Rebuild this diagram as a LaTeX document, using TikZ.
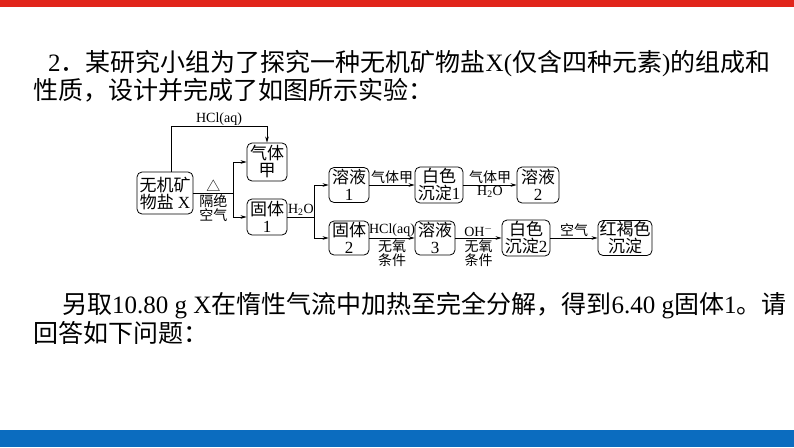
\documentclass[tikz,border=0pt]{standalone}
\usepackage{fontspec}
\setmainfont{Liberation Serif}
\newfontfamily\cjk{Noto Sans CJK SC}
\usetikzlibrary{calc,positioning,arrows.meta}
\definecolor{slidered}{HTML}{E1251B}
\definecolor{slideblue}{HTML}{0B6CBF}
\newcommand{\zh}[1]{{\cjk #1}}
\newcommand{\lt}[1]{{\rmfamily #1}}

\begin{document}
\begin{tikzpicture}[x=1pt,y=-1pt,
    box/.style={draw,rounded corners=5pt,line width=0.8pt,align=center,inner sep=1pt,font=\fontsize{17}{17}\selectfont\cjk},
    lbl/.style={font=\fontsize{14}{14.5}\selectfont,inner sep=1.2pt,align=center},
    zhlbl/.style={lbl,font=\fontsize{14}{14.5}\selectfont\cjk},
    flow/.style={-{Stealth[length=6pt,width=3.6pt]},line width=0.7pt},
    body/.style={font=\fontsize{25}{28}\selectfont,anchor=base west,inner sep=0pt}]
  \useasboundingbox (0,0) rectangle (794,447);
  \fill[slidered] (0,0) rectangle (794,7);
  \fill[slideblue] (0,430) rectangle (794,447);

  % question text
  \node[body] (qline1) at (48,71) {2\zh{．某研究小组为了探究一种无机矿物盐}X(\zh{仅含四种元素})\zh{的组成和}};
  \node[body] (qline2) at (33,99) {\zh{性质，设计并完成了如图所示实验：}};
  \node[body] (pline1) at (62,313) {\zh{另取}10.80 g X\zh{在惰性气流中加热至完全分解，得到}6.40 g\zh{固体}1\zh{。请}};
  \node[body] (pline2) at (33,342) {\zh{回答如下问题：}};

  % boxes of the flow chart
  \foreach \nm/\x/\y/\w/\h/\txt in {%
    salt/165/193/56/42/{无机矿\\物盐 \lt{X}},
    gasA/267/162/40/38/{气体\\甲},
    solidA/267/217/40/36/{固体\\\lt{1}},
    solnA/349/185/40/35/{溶液\\\lt{1}},
    pptA/439/185/48/36/{白色\\沉淀\lt{1}},
    solnB/538/185/42/36/{溶液\\\lt{2}},
    solidB/349/238/40/34/{固体\\\lt{2}},
    solnC/435/238/40/34/{溶液\\\lt{3}},
    pptB/526/238/48/36/{白色\\沉淀\lt{2}},
    rust/625/238/54/35/{红褐色\\沉淀}%
  } {
    \node[box,minimum width=\w pt,minimum height=\h pt] (\nm) at (\x,\y) {\txt};
  }

  % heating branch
  \coordinate (forkA) at ($(salt.east)+(40,0)$);
  \draw[line width=0.7pt] (salt.east) -- node[zhlbl,above]{△} node[zhlbl,below]{隔绝\\空气} (forkA);
  \draw[flow] (forkA) |- (gasA.west);
  \draw[flow] (forkA) |- (solidA.west);
  \draw[flow] ($(salt.north)+(6,0)$) -- ++(0,-45) -| node[lbl,above,pos=0.25]{HCl(aq)} (gasA.north);

  % water branch
  \coordinate (forkB) at ($(solidA.east)+(27,0)$);
  \draw[line width=0.7pt] (solidA.east) -- node[lbl,above]{H\textsubscript{2}O} (forkB);
  \draw[flow] (forkB) |- (solnA.west);
  \draw[flow] (forkB) |- (solidB.west);

  \draw[flow] (solnA) -- node[zhlbl,above]{气体甲} (pptA);
  \draw[flow] (pptA) -- node[zhlbl,above]{气体甲} node[lbl,below]{H\textsubscript{2}O} (solnB);
  \draw[flow] (solidB) -- node[lbl,above]{HCl(aq)} node[zhlbl,below]{无氧\\条件} (solnC);
  \draw[flow] (solnC) -- node[lbl,above]{OH$^-$} node[zhlbl,below]{无氧\\条件} (pptB);
  \draw[flow] (pptB) -- node[zhlbl,above]{空气} (rust);
\end{tikzpicture}
\end{document}
